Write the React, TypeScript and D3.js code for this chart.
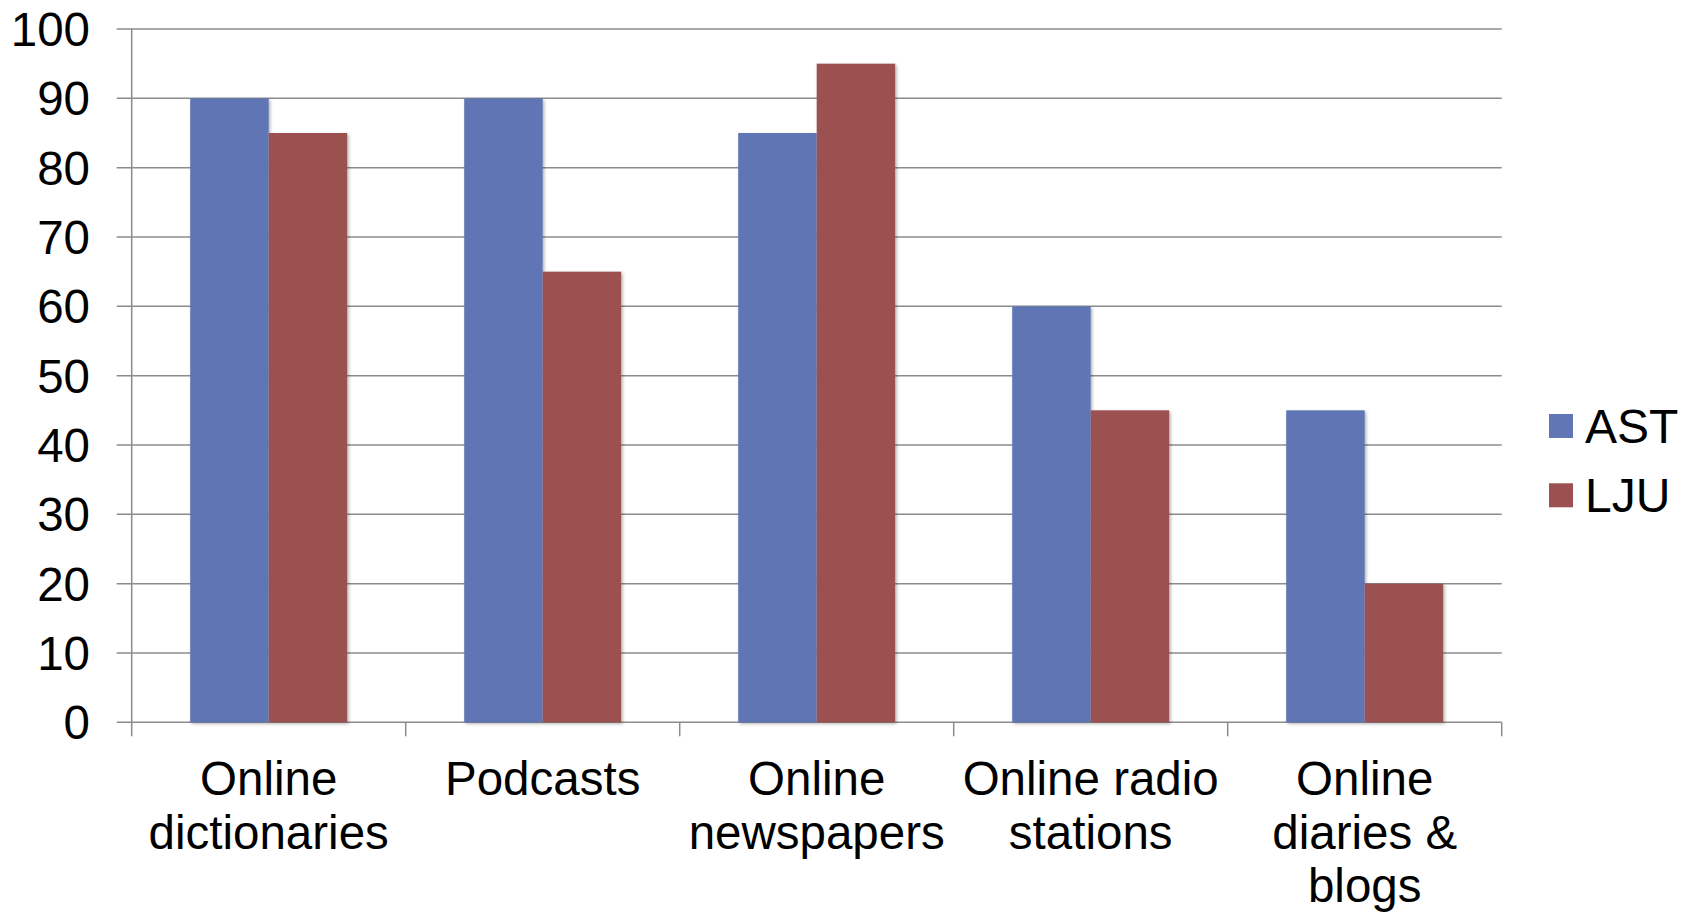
import React from "react";
import * as d3 from "d3";

const categories: string[][] = [
  ["Online", "dictionaries"],
  ["Podcasts"],
  ["Online", "newspapers"],
  ["Online radio", "stations"],
  ["Online", "diaries &", "blogs"],
];
const seriesNames = ["AST", "LJU"];
const astValues = [90, 90, 85, 60, 45];
const ljuValues = [85, 65, 95, 45, 20];
const yTicks = [0, 10, 20, 30, 40, 50, 60, 70, 80, 90, 100];
const colors = ["#6176B4", "#9C5151"];

const W = 1694;
const H = 916;
const left = 131.7;
const right = 1501.7;
const top = 29;
const bottom = 722.3;
const font = "'Liberation Sans', Arial, sans-serif";
const fs = 47.5;

export default function App() {
  const x0 = d3
    .scaleBand<number>()
    .domain(categories.map((_, i) => i))
    .range([left, right])
    .paddingInner(0)
    .paddingOuter(0);
  const x1 = d3
    .scaleBand<string>()
    .domain(seriesNames)
    .range([0, x0.bandwidth()])
    .paddingInner(0)
    .paddingOuter(0.7453);
  const y = d3.scaleLinear().domain([0, 100]).range([bottom, top]);
  const series = [astValues, ljuValues];
  const lineH = 53.5;

  return (
    <svg
      width={W}
      height={H}
      style={{ position: "absolute", left: 0, top: 0, background: "#fff" }}
      fontFamily={font}
    >
      <defs>
        <filter id="sh" x="-10%" y="-5%" width="130%" height="115%">
          <feDropShadow dx="1.5" dy="1.5" stdDeviation="1.5" floodColor="#000" floodOpacity="0.3" />
        </filter>
      </defs>
      {yTicks.map((t) => (
        <g key={t}>
          <line x1={left - 15} x2={right} y1={y(t)} y2={y(t)} stroke="#8c8c8c" strokeWidth={1.5} />
          <text x={90} y={y(t)} dy="0.36em" textAnchor="end" fontSize={fs} fill="#000">
            {t}
          </text>
        </g>
      ))}
      <line x1={left} x2={left} y1={top} y2={bottom + 14} stroke="#8c8c8c" strokeWidth={1.5} />
      {categories.map((_, i) => (
        <line
          key={i}
          x1={(x0(i) as number) + x0.bandwidth()}
          x2={(x0(i) as number) + x0.bandwidth()}
          y1={bottom}
          y2={bottom + 14}
          stroke="#8c8c8c"
          strokeWidth={1.5}
        />
      ))}
      {categories.map((_, i) => (
        <g key={i} filter="url(#sh)">
          {series.map((vals, s) => (
            <rect
              key={s}
              x={(x0(i) as number) + (x1(seriesNames[s]) as number)}
              y={y(vals[i])}
              width={x1.bandwidth()}
              height={y(0) - y(vals[i])}
              fill={colors[s]}
            />
          ))}
        </g>
      ))}
      {categories.map((lines, i) => (
        <text
          key={i}
          x={(x0(i) as number) + x0.bandwidth() / 2}
          y={795}
          textAnchor="middle"
          fontSize={fs}
          fill="#000"
        >
          {lines.map((l, k) => (
            <tspan key={k} x={(x0(i) as number) + x0.bandwidth() / 2} dy={k === 0 ? 0 : lineH}>
              {l}
            </tspan>
          ))}
        </text>
      ))}
      {seriesNames.map((n, s) => (
        <g key={n}>
          <rect x={1549} y={414 + s * 69.3} width={24} height={24} fill={colors[s]} />
          <text x={1585} y={443 + s * 69.3} fontSize={48} fill="#000">
            {n}
          </text>
        </g>
      ))}
    </svg>
  );
}
